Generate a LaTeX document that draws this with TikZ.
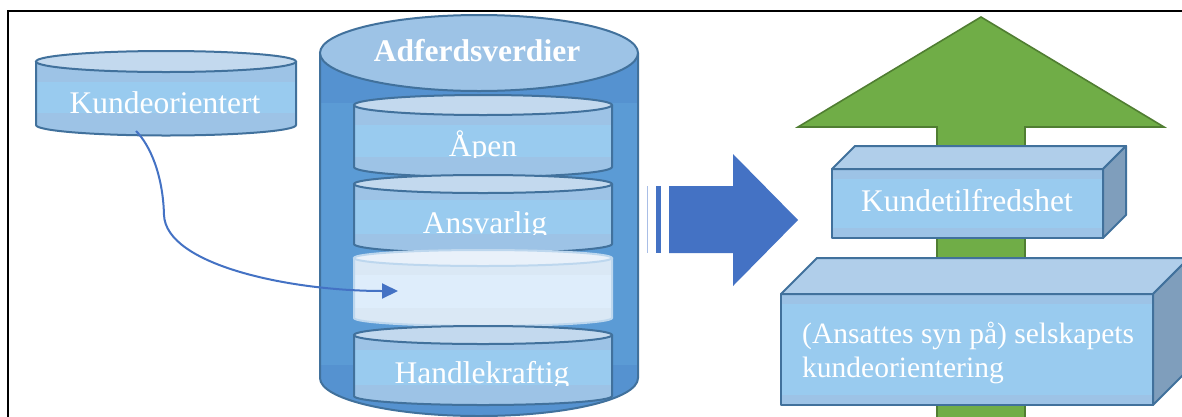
\documentclass[tikz,border=0pt]{standalone}
\usepackage{fontspec}
\setmainfont{Liberation Serif}
\usetikzlibrary{arrows.meta}

\definecolor{edgeBlue}{HTML}{41719C}
\definecolor{bandBlue}{HTML}{9DC3E6}
\definecolor{stripeBlue}{HTML}{99CBEF}
\definecolor{capBlue}{HTML}{C3D9EE}
\definecolor{bigBody}{HTML}{5B9BD5}
\definecolor{bigBand}{HTML}{5592D0}
\definecolor{bigCap}{HTML}{9DC3E6}
\definecolor{ghostBody}{HTML}{DAE8F5}
\definecolor{ghostStripe}{HTML}{DEEDFB}
\definecolor{ghostCap}{HTML}{E9F1FA}
\definecolor{ghostEdge}{HTML}{BDD7EE}
\definecolor{arrowBlue}{HTML}{4472C4}
\definecolor{thinBlue}{HTML}{A9BEE6}
\definecolor{leafGreen}{HTML}{70AD47}
\definecolor{greenEdge}{HTML}{507E32}
\definecolor{boxTop}{HTML}{B0CEEA}
\definecolor{boxSide}{HTML}{7F9EBC}

\tikzset{
  drumband/.style={fill=bandBlue},
  drumstripe/.style={fill=stripeBlue},
  drumedge/.style={draw=edgeBlue,line width=2pt},
  drumcap/.style={fill=capBlue},
  label/.style={text=white,inner sep=0pt,font=\fontsize{31.5}{36}\selectfont},
  boxlabel/.style={text=white,inner sep=0pt,font=\fontsize{29.5}{34}\selectfont},
  connector/.style={draw=arrowBlue,line width=2pt,-{Triangle[length=16pt,width=15pt]}},
  boxedge/.style={draw=edgeBlue,line width=2pt,line join=round},
}

% a cylinder: centre x, x radius, top centre y, bottom centre y, y radius, stripe top, stripe bottom
\newcommand\drum[7]{%
  \begin{scope}
    \clip (#1-#2,#3) -- (#1-#2,#4) arc[start angle=180,end angle=0,x radius=#2,y radius=#5] -- (#1+#2,#3) -- cycle;
    \fill[drumband] (#1-#2,#3) rectangle (#1+#2,#4+#5);
    \fill[drumstripe] (#1-#2,#6) rectangle (#1+#2,#7);
  \end{scope}
  \draw[drumedge] (#1-#2,#3) -- (#1-#2,#4) arc[start angle=180,end angle=0,x radius=#2,y radius=#5] -- (#1+#2,#3);
  \draw[drumedge,drumcap] (#1,#3) ellipse[x radius=#2,y radius=#5];
}

% a cuboid: front left x, front top y, front right x, front bottom y, depth
\newcommand\cuboid[5]{%
  \fill[bandBlue] (#1,#2) rectangle (#3,#4);
  \fill[stripeBlue] (#1,#2+10) rectangle (#3,#4-10);
  \draw[boxedge] (#1,#2) rectangle (#3,#4);
  \draw[boxedge,fill=boxTop] (#1,#2) -- (#1+#5,#2-#5) -- (#3+#5,#2-#5) -- (#3,#2) -- cycle;
  \draw[boxedge,fill=boxSide] (#3,#2) -- (#3+#5,#2-#5) -- (#3+#5,#4-#5) -- (#3,#4) -- cycle;
}

\begin{document}
\begin{tikzpicture}[x=1pt,y=-1pt]
\clip (0,0) rectangle (1182,416);
\fill[white] (0,0) rectangle (1182,416);

% frame
\draw[line width=2.4pt] (8,430) -- (8,11) -- (1200,11);

% small cylinder
\drum{166}{130}{61.5}{125}{10.5}{82}{113}
\node[label,anchor=base] (kunde) at (165,113) {Kundeorientert};

% large cylinder
\begin{scope}[drumband/.style={fill=bigBand},drumstripe/.style={fill=bigBody},drumcap/.style={fill=bigCap}]
  \drum{479}{159}{53}{378}{38}{103}{365}
\end{scope}
\node[label,anchor=base,font=\fontsize{31.5}{36}\selectfont\bfseries] (verdier) at (477,61) {Adferdsverdier};

% stacked values
\drum{483}{129}{105}{167}{10}{125}{157}
\begin{scope}
  \clip (354,95) rectangle (612,157);
  \node[label,anchor=base] (apen) at (483,156) {Åpen};
\end{scope}

\drum{483}{129}{184}{244}{9}{200}{234}
\begin{scope}
  \clip (354,175) rectangle (612,234);
  \node[label,anchor=base] (ansvarlig) at (485,233) {Ansvarlig};
\end{scope}

\begin{scope}[drumband/.style={fill=ghostBody},drumstripe/.style={fill=ghostStripe},
              drumcap/.style={fill=ghostCap},drumedge/.style={draw=ghostEdge,line width=2pt}]
  \drum{483}{129}{258}{318}{8}{275}{308}
\end{scope}
\coordinate (slot) at (398,291);

\drum{483}{129}{335}{396}{9}{350}{385}
\begin{scope}
  \clip (354,325) rectangle (612,385);
  \node[label,anchor=base] (handle) at (482,383) {Handlekraftig};
\end{scope}

% connector from the small cylinder into the empty slot
\coordinate (kstart) at (136,131);
\draw[connector] (kstart) .. controls (150,145) and (163,175) .. (164,215)
                 .. controls (166,265) and (290,291) .. (slot);

% block arrow
\fill[thinBlue] (647,186) rectangle (648.2,253);
\fill[arrowBlue] (656,186) rectangle (661,253);
\fill[arrowBlue] (669,186) -- (733,186) -- (733,154) -- (798,220) -- (733,286)
                 -- (733,253) -- (669,253) -- cycle;

% green arrow
\draw[fill=leafGreen,draw=greenEdge,line width=1.6pt,line join=miter]
  (937,430) -- (937,127) -- (798,127) -- (981,17) -- (1164,127) -- (1025,127) -- (1025,430);

% boxes
\cuboid{832}{169}{1103}{238}{23}
\node[boxlabel,anchor=base,font=\fontsize{31.5}{36}\selectfont] (tilfreds) at (967,211) {Kundetilfredshet};

\cuboid{781}{294}{1153}{405}{36}
\node[boxlabel,anchor=base west] (syn) at (802,343) {(Ansattes syn på) selskapets};
\node[boxlabel,anchor=base west] (orient) at (802,377) {kundeorientering};
\end{tikzpicture}
\end{document}
